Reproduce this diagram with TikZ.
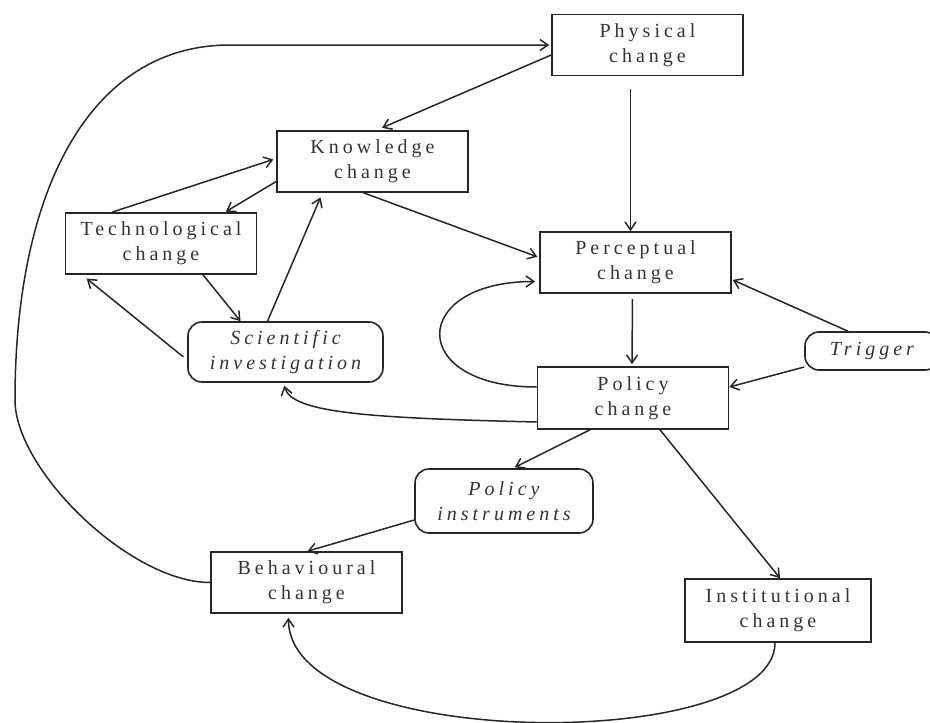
\documentclass[tikz,border=0pt]{standalone}
\usepackage{fontspec}
\setmainfont{Liberation Serif}[LetterSpace=20]
\usetikzlibrary{arrows.meta}
\tikzset{>={Straight Barb[length=8pt,width=11pt]},
  box/.style={draw=black!85, line width=1.6pt, minimum width=191pt,
    minimum height=61pt, inner sep=0pt, align=center, text=black!80,
    font=\fontsize{20}{25}\selectfont},
  rbox/.style={box, rounded corners=14pt,
    font=\fontsize{20}{25}\selectfont\itshape},
  link/.style={->, draw=black!85, line width=1.5pt}}

\begin{document}
\begin{tikzpicture}[x=1pt, y=-1pt]
  \useasboundingbox (0,0) rectangle (930,723);
  % boxes
  \node[box] (phys) at (647.5,45) {Physical\\change};
  \node[box] (know) at (372.5,161.5) {Knowledge\\change};
  \node[box] (tech) at (161,243.5) {Technological\\change};
  \node[rbox, minimum width=195pt, minimum height=60pt] (sci) at (285.5,352)
    {Scientific\\investigation};
  \node[box] (perc) at (635.5,262.5) {Perceptual\\change};
  \node[box, minimum height=62pt] (pol) at (633,398) {Policy\\change};
  \node[rbox, minimum width=134pt, minimum height=38pt] (trig) at (872,351) {Trigger};
  \node[rbox, minimum width=178pt, minimum height=64pt] (instr) at (504,501)
    {Policy\\instruments};
  \node[box] (beh) at (306.5,582.5) {Behavioural\\change};
  \node[box, minimum width=186pt, minimum height=63pt] (inst) at (778,610.5)
    {Institutional\\change};
  \coordinate (lw) at (15,400);
  \coordinate (tl) at (230,45);
  % straight links
  \draw[link, shorten >=6pt] ([yshift=-10pt]phys.west) -- ([xshift=4pt]know.north);
  \draw[link, shorten >=3pt] ([xshift=-49pt]tech.north) -- ([yshift=3pt]know.west);
  \draw[link, shorten >=1pt] ([yshift=-20pt]know.west) -- ([xshift=64pt]tech.north);
  \draw[link] ([xshift=42pt]tech.south) -- ([xshift=-45pt]sci.north);
  \draw[link, shorten >=5pt] ([xshift=-18pt]sci.north) -- ([xshift=-50pt]know.south);
  \draw[link, shorten <=5pt, shorten >=6pt] ([yshift=-8pt]sci.west) -- ([xshift=-79pt]tech.south);
  \draw[link, shorten >=2pt] ([xshift=-9pt]know.south) -- ([yshift=5pt]perc.west);
  \draw[link, shorten <=13pt] ([xshift=-17pt]phys.south) -- ([xshift=-5pt]perc.north);
  \draw[link, shorten <=5pt, shorten >=2pt] ([xshift=-3pt]perc.south) -- ([xshift=-1pt]pol.north);
  \draw[link, shorten >=1pt] ([xshift=-24pt]trig.north) -- ([yshift=-17pt]perc.east);
  \draw[link] ([yshift=-16pt]trig.west) -- ([yshift=11pt]pol.east);
  \draw[link, shorten >=2pt] ([xshift=-43pt]pol.south) -- ([xshift=9pt]instr.north);
  \draw[link] ([xshift=27pt]pol.south) -- ([xshift=2pt]inst.north);
  \draw[link] ([yshift=-19pt]instr.west) -- ([xshift=1pt]beh.north);
  % curved links
  \draw[link, shorten >=4pt] ([yshift=11pt]pol.west)
    .. controls +(-130,0) and +(-130,0) .. ([yshift=-19pt]perc.west);
  \draw[link, shorten >=3pt] ([yshift=-24pt]pol.west)
    .. controls +(-170,-4) and +(8,30) .. ([xshift=-2pt]sci.south);
  \draw[link, shorten >=2pt] (beh.west) .. controls +(-80,0) and (15,470) .. (lw)
    .. controls (15,190) and (90,45) .. (tl) -- (phys.west);
  \draw[link, shorten >=4pt] ([xshift=-3pt]inst.south)
    .. controls +(0,110) and +(0,139) .. ([xshift=-18pt]beh.south);
\end{tikzpicture}
\end{document}
